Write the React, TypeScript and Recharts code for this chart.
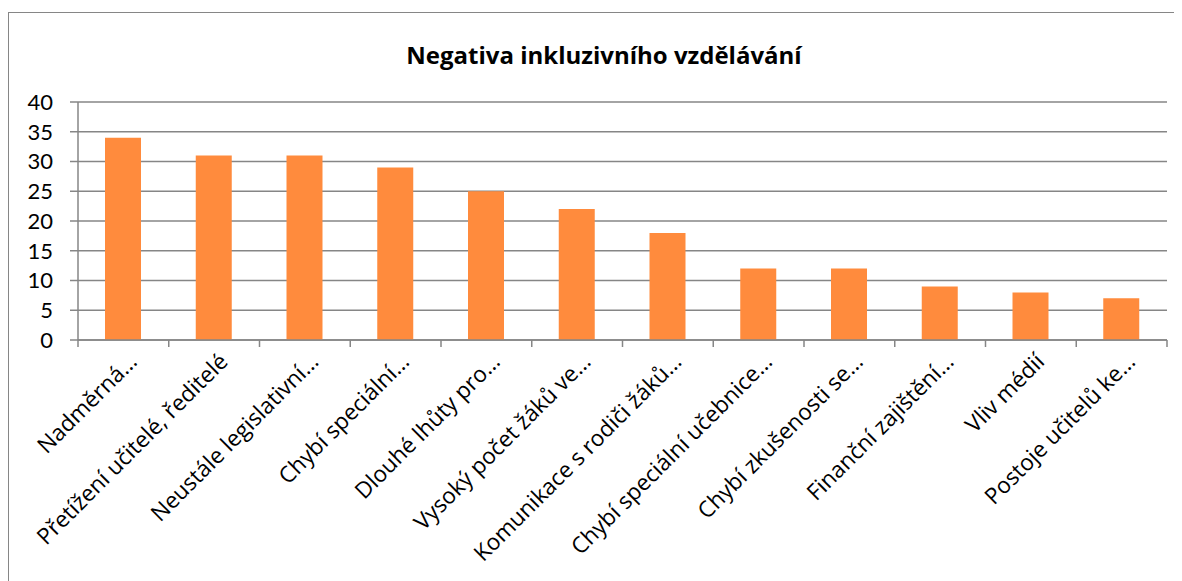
import React from 'react';
import { BarChart, Bar, XAxis, YAxis, CartesianGrid } from 'recharts';

const categories = [
    'Nadměrná…',
    'Přetížení učitelé, ředitelé',
    'Neustále legislativní…',
    'Chybí speciální…',
    'Dlouhé lhůty pro…',
    'Vysoký počet žáků ve…',
    'Komunikace s rodiči žáků…',
    'Chybí speciální učebnice…',
    'Chybí zkušenosti se…',
    'Finanční zajištění…',
    'Vliv médií',
    'Postoje učitelů ke…',
];
const counts = [34, 31, 31, 29, 25, 22, 18, 12, 12, 9, 8, 7];
const yTicks = [0, 5, 10, 15, 20, 25, 30, 35, 40];

const data = categories.map((name, i) => ({ name, value: counts[i] }));

const W = 1170;
const H = 573;
const margin = { top: 89, right: 12, bottom: 6, left: 0 };
const Y_W = 69;
const BAND = (W - margin.right - Y_W) / categories.length;
const GRID = '#868686';
const FONT = 'Lato, "Open Sans", sans-serif';
const LABEL_FONT = '"Open Sans", Lato, sans-serif';

function CategoryTick(props: any) {
    const { x, y, payload, index } = props;
    const tx = x + 15;
    const ty = y + 23;
    return (
        <g>
            <line x1={x - BAND / 2} y1={y} x2={x - BAND / 2} y2={y + 7} stroke={GRID} strokeWidth={1.5} />
            {index === categories.length - 1 && (
                <line x1={x + BAND / 2} y1={y} x2={x + BAND / 2} y2={y + 7} stroke={GRID} strokeWidth={1.5} />
            )}
            <text
                x={tx}
                y={ty}
                transform={`rotate(-45 ${tx} ${ty})`}
                textAnchor="end"
                fill="#000"
                fontSize={22.5}
                fontFamily={LABEL_FONT}
            >
                {payload.value}
            </text>
        </g>
    );
}

export default function App() {
    return (
        <div
            style={{
                position: 'relative',
                marginTop: 4,
                width: W,
                height: H,
                border: `1px solid ${GRID}`,
                background: '#fff',
            }}
        >
            <div
                style={{
                    position: 'absolute',
                    left: 0,
                    width: 1190,
                    top: 25,
                    textAlign: 'center',
                    fontFamily: LABEL_FONT,
                    fontWeight: 700,
                    fontSize: 24,
                    color: '#000',
                }}
            >
                Negativa inkluzivního vzdělávání
            </div>
            <BarChart width={W} height={H} data={data} margin={margin} barCategoryGap="30%">
                <CartesianGrid vertical={false} stroke={GRID} strokeWidth={1.5} />
                <XAxis
                    dataKey="name"
                    interval={0}
                    height={240}
                    tickSize={0}
                    tickMargin={0}
                    tickLine={false}
                    axisLine={{ stroke: GRID, strokeWidth: 1.5 }}
                    tick={<CategoryTick />}
                />
                <YAxis
                    width={Y_W}
                    domain={[0, 40]}
                    ticks={yTicks}
                    interval={0}
                    tickSize={8}
                    tickMargin={17}
                    axisLine={{ stroke: GRID, strokeWidth: 1.5 }}
                    tickLine={{ stroke: GRID, strokeWidth: 1.5 }}
                    tick={{ fill: '#000', fontSize: 22, fontFamily: FONT }}
                />
                <Bar dataKey="value" fill="#FF8B3D" barSize={36} isAnimationActive={false} />
            </BarChart>
        </div>
    );
}
